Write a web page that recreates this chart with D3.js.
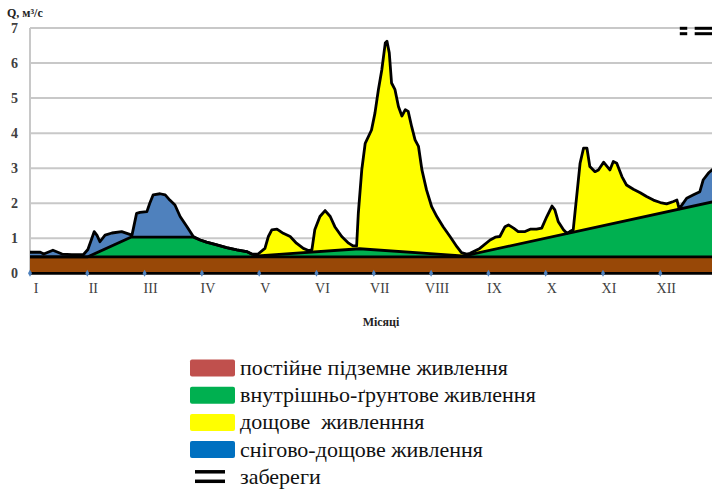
<!DOCTYPE html>
<html>
<head>
<meta charset="utf-8">
<script src="https://cdn.jsdelivr.net/npm/d3@7"></script>
<style>
  body { margin: 0; background: #fff; }
  svg { display: block; }
  text { font-family: "Liberation Serif", "Times New Roman", serif; }
</style>
</head>
<body>
<svg id="chart" width="712" height="489"></svg>
<script>
// Month labels (tick at the start of each month, value 0 = January)
const months = ["I", "II", "III", "IV", "V", "VI", "VII", "VIII", "IX", "X", "XI", "XII"];
const yTicks = [0, 1, 2, 3, 4, 5, 6, 7];

// Total discharge, [month position, Q m³/s]
const totalFlow = [
  [0.00, 0.60], [0.18, 0.60], [0.24, 0.55], [0.40, 0.66], [0.56, 0.55], [0.73, 0.53],
  [0.93, 0.53], [1.01, 0.68], [1.08, 1.00], [1.12, 1.19], [1.17, 1.08], [1.22, 0.90],
  [1.31, 1.09], [1.43, 1.15], [1.60, 1.19], [1.69, 1.14], [1.78, 1.09], [1.86, 1.71],
  [1.92, 1.74], [2.04, 1.76], [2.09, 2.00], [2.15, 2.24], [2.27, 2.27], [2.36, 2.24],
  [2.44, 2.09], [2.53, 1.95], [2.62, 1.62], [2.74, 1.33], [2.85, 1.05], [2.97, 0.95],
  [3.08, 0.89], [3.26, 0.81], [3.43, 0.73], [3.61, 0.67], [3.78, 0.62], [3.87, 0.55],
  [3.98, 0.55], [4.10, 0.71], [4.16, 1.05], [4.22, 1.24], [4.31, 1.26], [4.42, 1.14],
  [4.54, 1.05], [4.65, 0.86], [4.77, 0.71], [4.86, 0.65], [4.92, 0.67], [4.97, 1.24],
  [5.06, 1.62], [5.15, 1.79], [5.24, 1.62], [5.32, 1.33], [5.44, 1.05], [5.56, 0.86],
  [5.64, 0.78], [5.70, 0.78], [5.73, 1.72], [5.79, 2.95], [5.85, 3.71], [5.96, 4.09],
  [6.02, 4.57], [6.08, 5.24], [6.14, 5.81], [6.20, 6.57], [6.23, 6.62], [6.27, 6.29],
  [6.31, 5.43], [6.37, 5.24], [6.43, 4.76], [6.49, 4.49], [6.55, 4.67], [6.60, 4.62],
  [6.66, 4.19], [6.72, 3.81], [6.78, 3.62], [6.84, 2.95], [6.92, 2.38], [7.01, 1.90],
  [7.10, 1.62], [7.21, 1.33], [7.33, 1.05], [7.45, 0.76], [7.53, 0.59], [7.62, 0.55],
  [7.68, 0.57], [7.85, 0.71], [8.03, 0.95], [8.12, 1.03], [8.20, 1.05], [8.29, 1.33],
  [8.35, 1.38], [8.44, 1.29], [8.52, 1.19], [8.64, 1.19], [8.73, 1.26], [8.84, 1.26],
  [8.93, 1.29], [9.02, 1.62], [9.11, 1.92], [9.16, 1.81], [9.22, 1.47], [9.31, 1.24],
  [9.37, 1.14], [9.42, 1.19], [9.48, 1.24], [9.54, 2.19], [9.60, 3.14], [9.66, 3.57],
  [9.72, 3.57], [9.77, 3.05], [9.86, 2.90], [9.92, 2.95], [10.01, 3.17], [10.07, 3.05],
  [10.12, 2.95], [10.18, 3.19], [10.24, 3.14], [10.33, 2.76], [10.41, 2.52], [10.53, 2.40],
  [10.65, 2.30], [10.76, 2.19], [10.88, 2.09], [11.00, 2.02], [11.11, 1.98], [11.23, 2.05],
  [11.29, 2.09], [11.33, 1.84], [11.46, 2.14], [11.52, 2.19], [11.58, 2.24], [11.69, 2.33],
  [11.75, 2.67], [11.84, 2.86], [11.90, 2.95], [12.00, 3.05]
];

// Soil (inter-soil) flow upper boundary
const soilFlow = [
  [0.00, 0.47], [1.01, 0.47], [1.76, 1.03], [2.85, 1.03], [2.97, 0.95], [3.08, 0.89],
  [3.26, 0.81], [3.43, 0.73], [3.61, 0.67], [3.78, 0.62], [3.87, 0.55], [3.98, 0.50],
  [5.75, 0.70], [7.54, 0.50], [7.64, 0.52], [12.00, 2.07]
];

// Constant groundwater flow
const groundFlow = 0.47;

// Periods of snow-rain and rain feeding, month positions
const snowPeriods = [[0, 3.98], [11.33, 12]];
const rainPeriods = [[3.98, 11.33]];
// Ice-bank (забереги) periods
const iceBankPeriods = [[11.34, 11.47], [11.6, 12]];

const legendLabels = [
  "постійне підземне живлення",
  "внутрішньо-ґрунтове живлення",
  "дощове  живленння",
  "снігово-дощове живлення",
  "забереги"
];
const legendColors = ["#C0504D", "#00B050", "#FFFF00", "#0070C0", null];

const svg = d3.select("#chart");
const W = 712;

const x = d3.scaleLinear().domain([0, 12]).range([30, 30 + 12 * 57.3]);
const y = d3.scaleLinear().domain([0, 7]).range([273.3, 28]);

// Grid
svg.append("g").selectAll("line").data(yTicks.filter(d => d > 0)).join("line")
  .attr("x1", 30).attr("x2", W)
  .attr("y1", d => y(d)).attr("y2", d => y(d))
  .attr("stroke", "#c8c8c8").attr("stroke-width", 2);
svg.append("line").attr("x1", 30).attr("x2", 30).attr("y1", y(7)).attr("y2", y(0))
  .attr("stroke", "#c8c8c8").attr("stroke-width", 2);

// Y axis labels
svg.append("g").selectAll("text").data(yTicks).join("text")
  .attr("x", 18).attr("y", d => y(d)).attr("dy", "0.35em")
  .attr("text-anchor", "end")
  .attr("font-size", 14).attr("font-weight", "bold")
  .attr("fill", "#404040").text(d => d);

svg.append("text").attr("x", 7).attr("y", 17)
  .attr("font-size", 12).attr("font-weight", "bold")
  .attr("fill", "#222").text("Q, м³/с");

// Clip paths for feeding periods
const defs = svg.append("defs");
function periodClip(id, periods) {
  const cp = defs.append("clipPath").attr("id", id);
  periods.forEach(p => cp.append("rect")
    .attr("x", x(p[0])).attr("y", 0)
    .attr("width", x(p[1]) - x(p[0])).attr("height", 489));
}
periodClip("snowClip", snowPeriods);
periodClip("rainClip", rainPeriods);
defs.append("clipPath").attr("id", "plotClip").append("rect")
  .attr("x", 30).attr("y", 0).attr("width", W - 30).attr("height", 489);

const plot = svg.append("g").attr("clip-path", "url(#plotClip)");

const area = d3.area().x(d => x(d[0])).y0(y(0)).y1(d => y(d[1]));
const line = d3.line().x(d => x(d[0])).y(d => y(d[1]));

plot.append("path").datum(totalFlow).attr("d", area)
  .attr("fill", "#4F81BD").attr("clip-path", "url(#snowClip)");
plot.append("path").datum(totalFlow).attr("d", area)
  .attr("fill", "#FFFF00").attr("clip-path", "url(#rainClip)");
plot.append("path").datum(soilFlow).attr("d", area).attr("fill", "#00B050");

const groundLine = [[0, groundFlow], [12, groundFlow]];
plot.append("path").datum(groundLine).attr("d", area).attr("fill", "#984807");

// Outlines
const outline = (data) => plot.append("path").datum(data).attr("d", line)
  .attr("fill", "none").attr("stroke", "#000").attr("stroke-width", 2.8)
  .attr("stroke-linejoin", "round");
outline(totalFlow);
outline(soilFlow);
outline(groundLine);
outline([[0, 0], [12, 0]]);

// Month tick markers
svg.append("g").selectAll("path").data(months).join("path")
  .attr("d", d3.symbol(d3.symbolDiamond, 14))
  .attr("transform", (d, i) => `translate(${x(i)},${y(0)})`)
  .attr("fill", "#4F81BD");

// Month labels
svg.append("g").selectAll("text").data(months).join("text")
  .attr("x", (d, i) => x(i) + 6).attr("y", 293)
  .attr("text-anchor", "middle")
  .attr("font-size", 14)
  .attr("fill", "#404040").text(d => d);

svg.append("text").attr("x", 381).attr("y", 326).attr("text-anchor", "middle")
  .attr("font-size", 12).attr("font-weight", "bold")
  .attr("fill", "#222").text("Місяці");

// Ice-bank marks
const ice = svg.append("g");
iceBankPeriods.forEach(p => {
  [28.3, 33.7].forEach(yy => ice.append("line")
    .attr("x1", x(p[0])).attr("x2", Math.min(x(p[1]), W)).attr("y1", yy).attr("y2", yy)
    .attr("stroke", "#000").attr("stroke-width", 3));
});

// Legend
const lg = svg.append("g");
legendLabels.forEach((label, i) => {
  const cy = 368 + i * 27.2;
  if (legendColors[i]) {
    lg.append("rect").attr("x", 190).attr("y", cy - 8.5).attr("width", 45).attr("height", 17)
      .attr("rx", 2).attr("fill", legendColors[i]);
  } else {
    [cy - 5, cy + 4.5].forEach(yy => lg.append("line")
      .attr("x1", 195).attr("x2", 225).attr("y1", yy).attr("y2", yy)
      .attr("stroke", "#000").attr("stroke-width", 3.5));
  }
  lg.append("text").attr("x", 240).attr("y", cy).attr("dy", "0.32em")
    .attr("font-size", 22).style("white-space", "pre")
    .attr("fill", "#111").text(label);
});
</script>
</body>
</html>
